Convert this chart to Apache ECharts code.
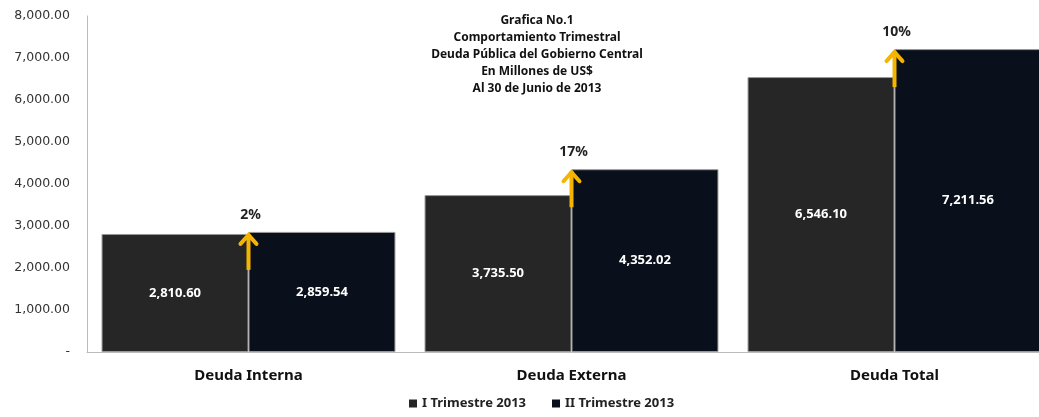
<!DOCTYPE html>
<html>
<head>
<meta charset="utf-8">
<script src="https://cdn.jsdelivr.net/npm/echarts@6/dist/echarts.min.js"></script>
<style>
html,body{margin:0;padding:0;background:#fff;overflow:hidden;}
#chart{width:1056px;height:417px;}
</style>
</head>
<body>
<div id="chart"></div>
<script>
// datos del grafico
var categorias = ['Deuda Interna', 'Deuda Externa', 'Deuda Total'];
var trimestre1 = [2810.60, 3735.50, 6546.10];
var trimestre2 = [2859.54, 4352.02, 7211.56];
var variacion = ['2%', '17%', '10%'];
var nombres = ['I Trimestre 2013', 'II Trimestre 2013'];
var tituloLineas = ['Grafica No.1', 'Comportamiento Trimestral', 'Deuda Pública del Gobierno Central', 'En Millones de US$', 'Al 30 de Junio de 2013'];

function fmt(v){
	return v.toLocaleString('en-US', {minimumFractionDigits: 2, maximumFractionDigits: 2});
}

var chart = echarts.init(document.getElementById('chart'));

// flechas amarillas entre las barras
var flechas = categorias.map(function(c, i){ return [i, trimestre2[i], variacion[i]]; });

var option = {
	animation: false,
	textStyle: {fontFamily: 'Noto Sans'},
	title: {
		text: tituloLineas.join('\n'),
		left: 532,
		top: 7,
		textAlign: 'center',
		textStyle: {fontSize: 12, fontWeight: 'bold', color: '#111', lineHeight: 17, fontFamily: 'Noto Sans'}
	},
	legend: {
		data: nombres,
		bottom: 2,
		left: 404,
		itemWidth: 8,
		itemHeight: 8,
		itemGap: 26,
		icon: 'rect',
		itemStyle: {borderWidth: 0},
		textStyle: {fontSize: 13, fontWeight: 'bold', color: '#222', fontFamily: 'Noto Sans'}
	},
	grid: {left: 87, right: 0, top: 16, bottom: 65},
	xAxis: {
		type: 'category',
		data: categorias,
		axisLine: {show: true, lineStyle: {color: '#bbb'}},
		axisTick: {show: false},
		axisLabel: {fontSize: 15, fontWeight: 'bold', color: '#111', margin: 16, fontFamily: 'Noto Sans'}
	},
	yAxis: {
		type: 'value',
		min: 0,
		max: 8000,
		interval: 1000,
		axisLine: {show: true, lineStyle: {color: '#bbb'}},
		axisTick: {show: false},
		splitLine: {show: false},
		axisLabel: {
			fontSize: 12.5,
			color: '#333',
			margin: 17,
			fontFamily: 'DejaVu Sans',
			formatter: function(v){ return v === 0 ? '-' : fmt(v); }
		}
	},
	series: [
		{
			name: nombres[0],
			type: 'bar',
			data: trimestre1,
			barGap: '0%',
			barCategoryGap: '9%',
			itemStyle: {color: '#262626', borderColor: '#9a9a9a', borderWidth: 1},
			label: {show: true, position: 'inside', color: '#fff', fontWeight: 'bold', fontSize: 13,
				formatter: function(p){ return fmt(p.value); }}
		},
		{
			name: nombres[1],
			type: 'bar',
			data: trimestre2,
			itemStyle: {color: '#0a101b', borderColor: '#9a9a9a', borderWidth: 1},
			label: {show: true, position: 'inside', color: '#fff', fontWeight: 'bold', fontSize: 13,
				formatter: function(p){ return fmt(p.value); }}
		},
		{
			type: 'custom',
			data: flechas,
			z: 10,
			renderItem: function(params, api){
				var tip = api.coord([api.value(0), api.value(1)]);
				var x = tip[0], y = tip[1];
				return {
					type: 'group',
					children: [
						{type: 'line', shape: {x1: x, y1: y + 38, x2: x, y2: y + 2},
							style: {stroke: '#f5b400', lineWidth: 4}},
						{type: 'polyline', shape: {points: [[x - 8, y + 12], [x, y + 3], [x + 8, y + 12]]},
							style: {stroke: '#f5b400', lineWidth: 4, fill: null, lineCap: 'round', lineJoin: 'miter'}},
						{type: 'text', style: {text: api.value(2), x: x + 2, y: y - 10, align: 'center', verticalAlign: 'bottom',
							fill: '#222', font: 'bold 14px "Noto Sans"'}}
					]
				};
			}
		}
	]
};
chart.setOption(option);
</script>
</body>
</html>
